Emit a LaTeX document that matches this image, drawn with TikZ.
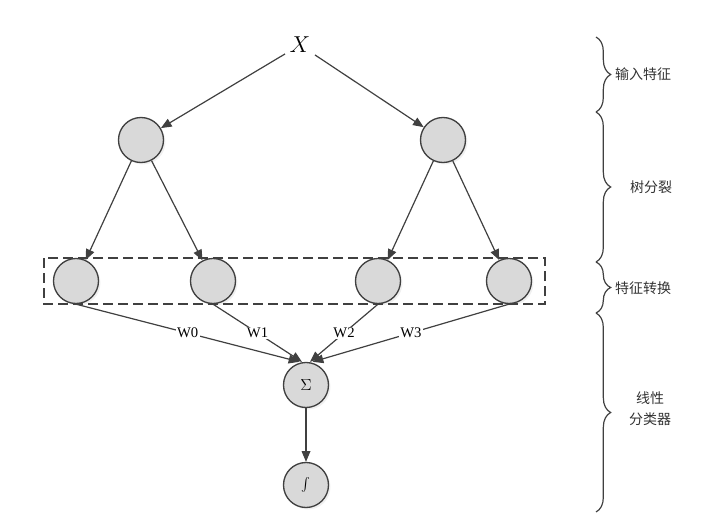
\documentclass[tikz,border=0pt]{standalone}
\usepackage{fontspec}
\setmainfont{Liberation Serif}
\newfontfamily\cjk{Noto Sans CJK SC}
\usetikzlibrary{positioning,arrows.meta,shadows,decorations.pathreplacing}
\definecolor{linegray}{HTML}{404040}
\definecolor{nodegray}{HTML}{D9D9D9}

\begin{document}
\begin{tikzpicture}[x=0.75pt,y=-0.75pt,
				unit/.style={circle,draw=linegray,fill=nodegray,line width=1pt,minimum size=33.75pt,inner sep=0pt,
					font=\large,drop shadow={opacity=0.12,shadow xshift=1.5pt,shadow yshift=-1.5pt}},
				link/.style={draw=linegray,line width=0.9pt,-{Triangle[length=8pt,width=6.5pt]}},
				weight/.style={fill=white,inner sep=1pt,font=\fontsize{11}{13}\selectfont},
				stage/.style={draw=linegray,line width=0.9pt,decorate,decoration={brace,amplitude=11pt}},
				tag/.style={font=\cjk\fontsize{10.5}{16}\selectfont,align=center,text=black!80}]
				\useasboundingbox (0,0) rectangle (724,531);
				\node (X)     at (300,45)   {\fontsize{17}{20}\selectfont$X$};
				\node[unit] (S0) at (141,140) {};
				\node[unit] (S1) at (443,140) {};
				\node[unit] (T0) at (76,281)  {};
				\node[unit] (T1) at (213,281) {};
				\node[unit] (T2) at (378,281) {};
				\node[unit] (T3) at (509,281) {};
				\node[unit] (SUM) at (306,385) {$\Sigma$};
				\node[unit] (INT) at (306,485) {$\int$};
				
				\draw[link] (X) -- (S0);
				\draw[link] (X) -- (S1);
				\draw[link] (S0) -- (T0);
				\draw[link] (S0) -- (T1);
				\draw[link] (S1) -- (T2);
				\draw[link] (S1) -- (T3);
				\draw[dashed,draw=linegray,line width=0.9pt,dash pattern=on 7.5pt off 3.75pt] (44,258) rectangle (545,304);
				\draw[link] (T0.south) -- node[weight] {W0} ([xshift=-5pt]SUM.north);
				\draw[link] (T1.south) -- node[weight] {W1} ([xshift=-3pt]SUM.north);
				\draw[link] (T2.south) -- node[weight] {W2} ([xshift=3pt]SUM.north);
				\draw[link] (T3.south) -- node[weight] {W3} ([xshift=5pt]SUM.north);
				\draw[link] (SUM) -- (INT);
				
				\draw[stage] (596,37)  -- (596,112);
				\draw[stage] (596,112) -- (596,262);
				\draw[stage] (596,262) -- (596,313);
				\draw[stage] (596,313) -- (596,512);
				\node[tag] (L0) at (643,74)  {输入特征};
				\node[tag] (L1) at (651,187) {树分裂};
				\node[tag] (L2) at (643,288) {特征转换};
				\node[tag] (L3) at (650,409) {线性\\分类器};
			\end{tikzpicture}
\end{document}
